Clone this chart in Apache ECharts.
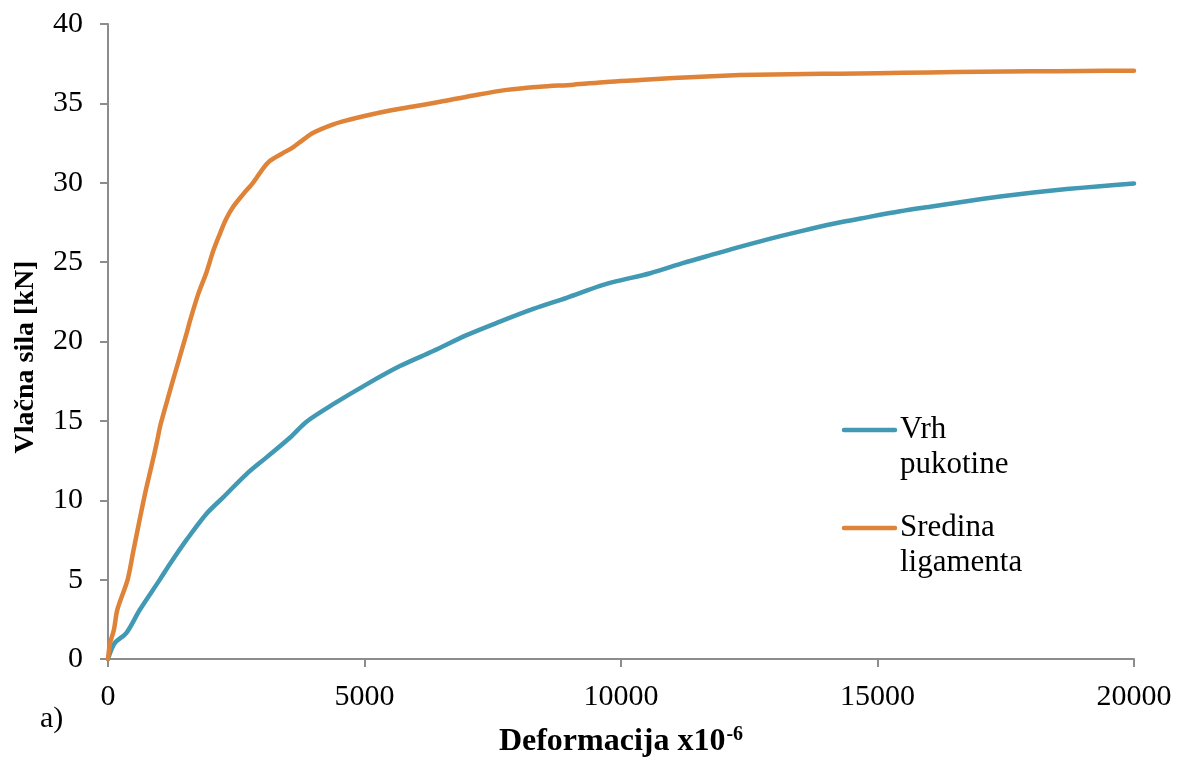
<!DOCTYPE html>
<html>
<head>
<meta charset="utf-8">
<script src="https://cdn.jsdelivr.net/npm/echarts@6/dist/echarts.min.js"></script>
<style>
  html, body { margin: 0; padding: 0; background: #ffffff; }
  #chart { width: 1185px; height: 763px; }
</style>
</head>
<body>
<div id="chart"></div>
<script>
// Deformation (x10^-6) vs. tensile force (kN) for two measurement points
const vrhX = [0, 130, 360, 620, 1010, 1210, 1530, 1920, 2250, 2700, 3090, 3550, 3870,
  4390, 5040, 5690, 6340, 6990, 7640, 8290, 8940, 9590, 9920, 10570, 11220, 11870,
  12190, 12840, 13490, 14140, 14790, 15440, 16090, 16740, 17390, 18040, 18690, 19340, 20000];
const vrhY = [0, 1.0, 1.65, 3.1, 5.0, 6.0, 7.5, 9.15, 10.2, 11.65, 12.7, 13.95, 14.95,
  16.05, 17.3, 18.45, 19.4, 20.4, 21.25, 22.05, 22.75, 23.5, 23.8, 24.3, 24.95, 25.55,
  25.85, 26.42, 26.94, 27.42, 27.82, 28.2, 28.52, 28.84, 29.13, 29.38, 29.6, 29.78, 29.96];

const sredX = [0, 40, 117, 181, 383, 494, 600, 721, 851, 949, 1027, 1209, 1306, 1450,
  1540, 1598, 1760, 1924, 2050, 2183, 2300, 2443, 2640, 2833, 3000, 3158, 3400, 3613,
  3800, 4002, 4392, 4700, 5042, 5500, 5952, 6472, 7122, 7771, 8421, 9071, 9721, 10370,
  11020, 11670, 12320, 12969, 13619, 14269, 15000, 16000, 17000, 18000, 19000, 20000];
const sredY = [0, 1.0, 1.86, 3.1, 5.0, 6.8, 8.5, 10.4, 12.2, 13.6, 14.8, 16.9, 18.0, 19.6,
  20.6, 21.3, 23.0, 24.4, 25.7, 26.8, 27.7, 28.5, 29.3, 30.03, 30.8, 31.38, 31.85, 32.25,
  32.7, 33.15, 33.68, 33.97, 34.24, 34.55, 34.8, 35.1, 35.5, 35.85, 36.05, 36.18, 36.35, 36.47,
  36.6, 36.7, 36.78, 36.82, 36.85, 36.87, 36.9, 36.95, 36.99, 37.02, 37.04, 37.06];

const xTicks = [0, 5000, 10000, 15000, 20000];
const yTicks = [0, 5, 10, 15, 20, 25, 30, 35, 40];

const seriesNames = ['Vrh pukotine', 'Sredina ligamenta'];
const legendLines = [['Vrh', 'pukotine'], ['Sredina', 'ligamenta']];
const colors = ['#4199b3', '#de8338'];

const xTitle = 'Deformacija x10';
const xTitleSup = '-6';
const yTitle = 'Vlačna sila [kN]';
const panelTag = 'a)';

const FONT = '"Liberation Serif", "Times New Roman", serif';
const AXIS_GRAY = '#8c8c8c';

const zip = (xs, ys) => xs.map((x, i) => [x, ys[i]]);

const chart = echarts.init(document.getElementById('chart'));

// Legend drawn as a block: short line swatch next to the first text line
function legendBlock(idx, top) {
  return [
    {
      type: 'line',
      shape: { x1: 844, y1: top + 12, x2: 895, y2: top + 12 },
      style: { stroke: colors[idx], lineWidth: 4.5, lineCap: 'round' }
    },
    {
      type: 'text',
      left: 900, top: top - 6,
      style: {
        text: legendLines[idx].join('\n'),
        font: '31px ' + FONT,
        fill: '#000',
        lineHeight: 35
      }
    }
  ];
}

const lineSeries = (idx, xs, ys) => ({
  name: seriesNames[idx], type: 'line', data: zip(xs, ys),
  smooth: 0.3, showSymbol: false, symbol: 'none',
  lineStyle: { color: colors[idx], width: 4.5, cap: 'round', join: 'round' },
  itemStyle: { color: colors[idx] }, z: 3 + idx
});

chart.setOption({
  animation: false,
  backgroundColor: '#ffffff',
  textStyle: { fontFamily: FONT },
  grid: { left: 108, right: 51, top: 24, bottom: 100, containLabel: false },
  xAxis: {
    type: 'value',
    min: xTicks[0], max: xTicks[xTicks.length - 1], interval: xTicks[1] - xTicks[0],
    name: '{t|' + xTitle + '}{s|' + xTitleSup + '}',
    nameLocation: 'middle',
    nameGap: 66,
    nameTextStyle: {
      rich: {
        t: { fontFamily: FONT, fontWeight: 'bold', fontSize: 32, color: '#000', verticalAlign: 'bottom' },
        s: { fontFamily: FONT, fontWeight: 'bold', fontSize: 20, color: '#000', verticalAlign: 'top', padding: [0, 0, 13, 1] }
      }
    },
    axisLine: { show: true, lineStyle: { color: AXIS_GRAY, width: 2 } },
    axisTick: { show: true, inside: false, length: 8, lineStyle: { color: AXIS_GRAY, width: 2 } },
    axisLabel: { fontFamily: FONT, fontSize: 30, color: '#000', margin: 23, formatter: v => String(v) },
    splitLine: { show: false }
  },
  yAxis: {
    type: 'value',
    min: yTicks[0], max: yTicks[yTicks.length - 1], interval: yTicks[1] - yTicks[0],
    axisLine: { show: true, lineStyle: { color: AXIS_GRAY, width: 2 } },
    axisTick: { show: true, inside: false, length: 8, lineStyle: { color: AXIS_GRAY, width: 2 } },
    axisLabel: { fontFamily: FONT, fontSize: 30, color: '#000', margin: 25 },
    splitLine: { show: false }
  },
  series: [
    lineSeries(0, vrhX, vrhY),
    lineSeries(1, sredX, sredY)
  ],
  graphic: [
    ...legendBlock(0, 418),
    ...legendBlock(1, 516),
    {
      type: 'text', x: 26, y: 357, rotation: Math.PI / 2,
      style: {
        text: yTitle, font: 'bold 28px ' + FONT, fill: '#000',
        align: 'center', verticalAlign: 'middle'
      }
    },
    {
      type: 'text', left: 40, top: 704,
      style: { text: panelTag, font: '30px ' + FONT, fill: '#000' }
    }
  ]
});
</script>
</body>
</html>
